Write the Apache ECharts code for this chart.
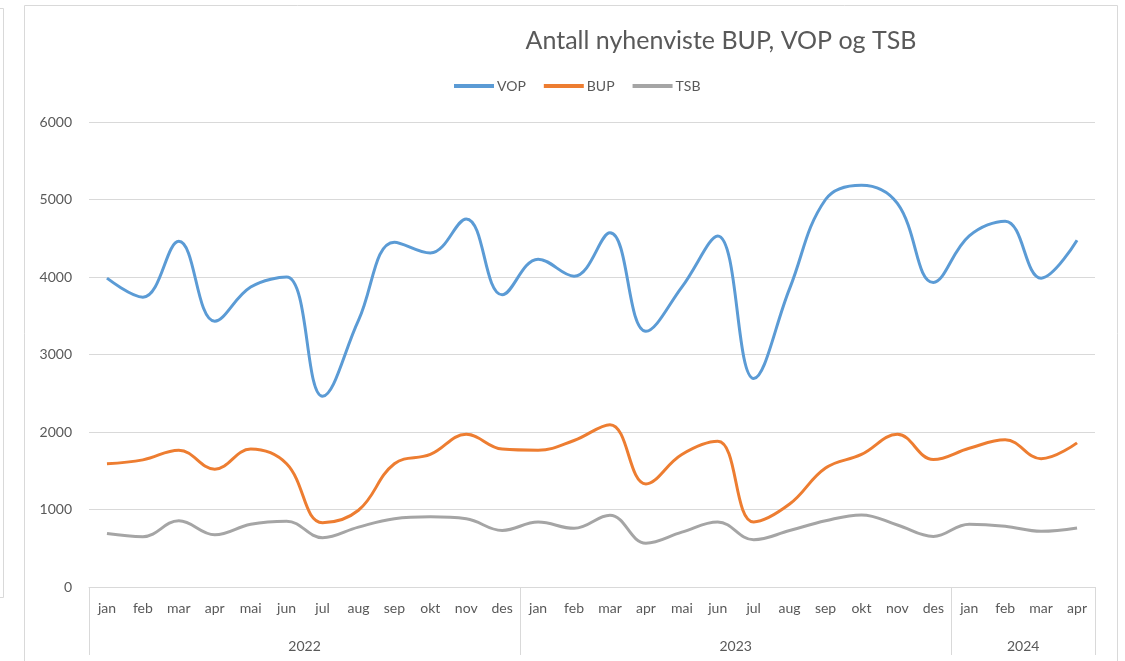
<!DOCTYPE html>
<html>
<head>
<meta charset="utf-8">
<script src="https://cdn.jsdelivr.net/npm/echarts@6/dist/echarts.min.js"></script>
<style>
  html, body { margin: 0; padding: 0; background: #fff; }
  #main { width: 1125px; height: 661px; }
</style>
</head>
<body>
<div id="main"></div>
<script>
// måneder og år
const months = ['jan', 'feb', 'mar', 'apr', 'mai', 'jun', 'jul', 'aug', 'sep', 'okt', 'nov', 'des',
  'jan', 'feb', 'mar', 'apr', 'mai', 'jun', 'jul', 'aug', 'sep', 'okt', 'nov', 'des',
  'jan', 'feb', 'mar', 'apr'];
const years = ['2022', '2023', '2024'];
const monthsPerYear = [12, 12, 4];

// verdier lest av figuren
const vop = [3985, 3740, 4460, 3430, 3870, 4000, 2460, 3440, 4450, 4310, 4750, 3770,
  4230, 4010, 4570, 3300, 3870, 4530, 2690, 3850, 5000, 5185, 4950, 3930,
  4530, 4720, 3985, 4475];
const bup = [1590, 1640, 1765, 1520, 1780, 1590, 830, 990, 1590, 1710, 1970, 1780,
  1765, 1890, 2095, 1330, 1710, 1880, 840, 1070, 1535, 1710, 1970, 1645,
  1790, 1900, 1655, 1860];
const tsb = [690, 650, 855, 675, 810, 850, 637, 773, 880, 905, 880, 730,
  838, 757, 925, 566, 708, 838, 610, 729, 855, 930, 800, 653,
  811, 784, 719, 762];

// posisjoner for årsetiketter og skillelinjer
const yearBounds = [0];
const yearMids = [];
monthsPerYear.forEach(function (n, i) {
  yearMids.push(yearBounds[i] + n / 2);
  yearBounds.push(yearBounds[i] + n);
});

const textColor = '#595959';
const lineColor = '#d9d9d9';
const font = 'Lato, "Liberation Sans", sans-serif';

var myChart = echarts.init(document.getElementById('main'));

myChart.setOption({
  animation: false,
  textStyle: { fontFamily: font },
  title: {
    text: 'Antall nyhenviste BUP, VOP og TSB',
    left: 716,
    textAlign: 'center',
    top: 23,
    textStyle: { fontSize: 25, fontWeight: 'normal', color: textColor, fontFamily: font }
  },
  legend: {
    top: 74,
    left: 449,
    itemWidth: 40,
    itemHeight: 4,
    itemGap: 18,
    icon: 'rect',
    textStyle: { fontSize: 14, color: textColor, padding: [0, 0, 0, -2] },
    data: ['VOP', 'BUP', 'TSB']
  },
  graphic: [
    {
      type: 'rect',
      shape: { x: 24.5, y: 5.5, width: 1093, height: 700 },
      style: { fill: 'none', stroke: lineColor, lineWidth: 1 },
      silent: true
    },
    {
      type: 'rect',
      shape: { x: -20, y: 8.5, width: 23.5, height: 589 },
      style: { fill: 'none', stroke: lineColor, lineWidth: 1 },
      silent: true
    }
  ],
  grid: { left: 89, right: 30, top: 122, bottom: 74, containLabel: false },
  xAxis: [
    {
      type: 'category',
      data: months,
      boundaryGap: true,
      axisLine: { lineStyle: { color: lineColor } },
      axisTick: { show: false },
      axisLabel: { color: textColor, fontSize: 14, margin: 14, interval: 0 }
    },
    {
      type: 'value',
      min: 0,
      max: months.length,
      position: 'bottom',
      axisLine: { show: false },
      splitLine: { show: false },
      axisTick: {
        show: true,
        customValues: yearBounds,
        length: 68,
        lineStyle: { color: lineColor }
      },
      axisLabel: {
        customValues: yearMids,
        color: textColor,
        fontSize: 14,
        margin: 52,
        formatter: function (v) {
          const i = yearMids.indexOf(v);
          return i >= 0 ? years[i] : '';
        }
      }
    }
  ],
  yAxis: {
    type: 'value',
    min: 0,
    max: 6000,
    interval: 1000,
    axisLine: { show: false },
    axisTick: { show: false },
    axisLabel: {
      color: textColor, fontSize: 14, margin: 17,
      formatter: function (v) { return String(v); }
    },
    splitLine: { lineStyle: { color: lineColor } }
  },
  series: [
    {
      name: 'VOP', type: 'line', data: vop, smooth: 0.4, symbol: 'none',
      lineStyle: { width: 3, color: '#5B9BD5' }, itemStyle: { color: '#5B9BD5' }
    },
    {
      name: 'BUP', type: 'line', data: bup, smooth: 0.4, symbol: 'none',
      lineStyle: { width: 3, color: '#ED7D31' }, itemStyle: { color: '#ED7D31' }
    },
    {
      name: 'TSB', type: 'line', data: tsb, smooth: 0.4, symbol: 'none',
      lineStyle: { width: 3, color: '#A5A5A5' }, itemStyle: { color: '#A5A5A5' }
    }
  ]
});
</script>
</body>
</html>
